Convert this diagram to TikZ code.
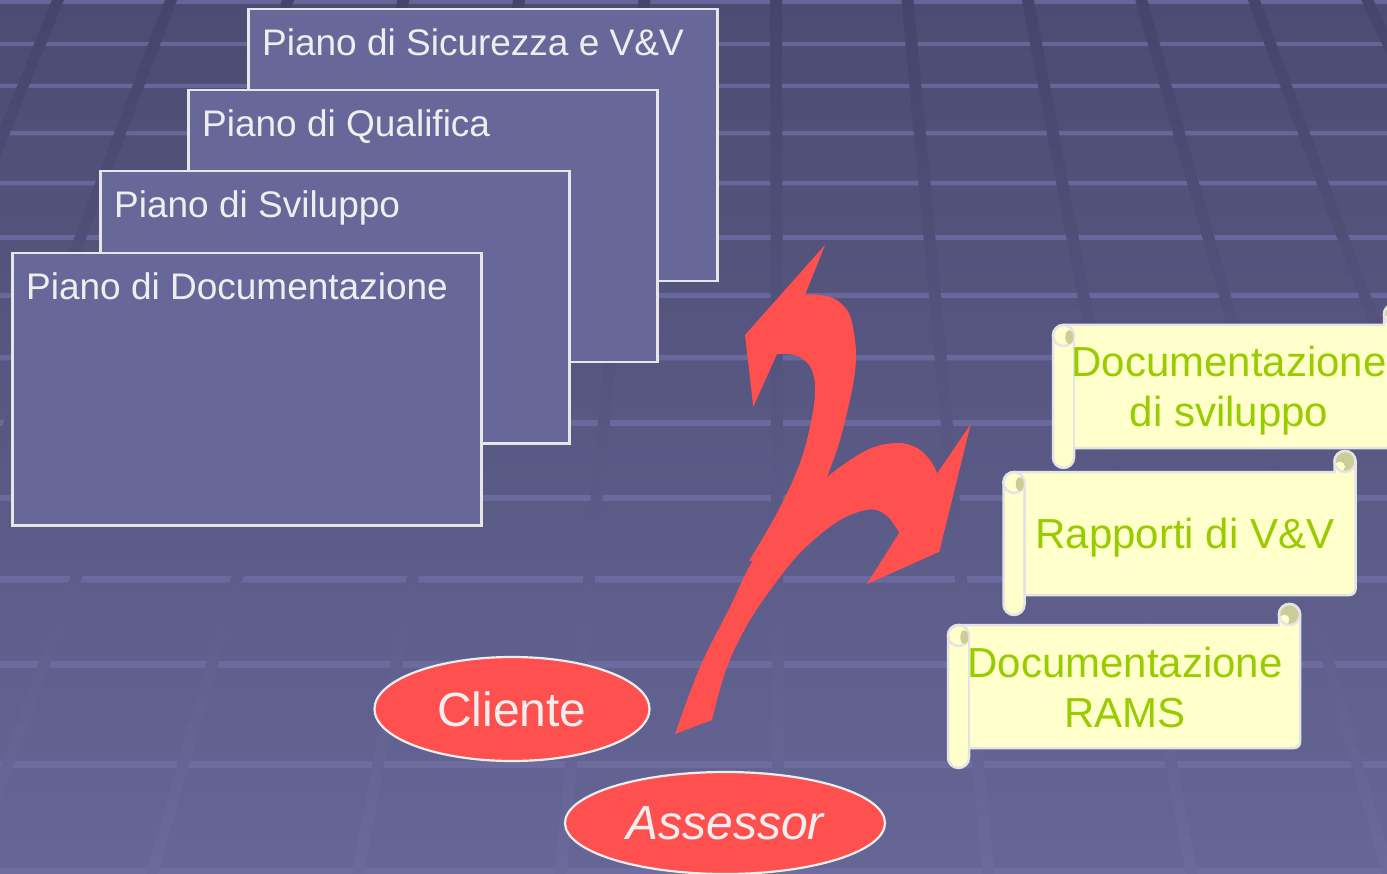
\documentclass[tikz,border=0pt]{standalone}
\usepackage{fontspec}
\setmainfont{Liberation Sans}
\usetikzlibrary{shapes.geometric}

\definecolor{bgtop}{HTML}{4C4B71}
\definecolor{bgbottom}{HTML}{666697}
\definecolor{gridtop}{HTML}{45446A}
\definecolor{gridbottom}{HTML}{6A6A9B}
\definecolor{railtop}{HTML}{656599}
\definecolor{railbottom}{HTML}{6D6DA0}
\definecolor{planfill}{HTML}{67679A}
\definecolor{planline}{HTML}{E6E6E6}
\definecolor{softwhite}{HTML}{EEEEEE}
\definecolor{alertred}{HTML}{FF5050}
\definecolor{paper}{HTML}{FFFFCC}
\definecolor{paperline}{HTML}{E4E4E4}
\definecolor{paperfold}{HTML}{CCCC99}
\definecolor{leafgreen}{HTML}{99CC00}

% scroll geometry: roll radius, total width, body height
\def\scrR{10.5}
\def\scrW{352}
\def\scrH{123}

% horizontal scroll with its left edge at #1 and body top at #2
\newcommand\docscroll[2]{%
  \path[scrollbody] (#1,#2+\scrR)
    arc[start angle=180,end angle=270,radius=\scrR]
    -- (#1+\scrW-2*\scrR,#2) -- (#1+\scrW-2*\scrR,#2-\scrR)
    arc[start angle=180,end angle=360,radius=\scrR]
    -- (#1+\scrW,#2+\scrH-6) arc[start angle=0,end angle=90,radius=6]
    -- (#1+2*\scrR,#2+\scrH) -- (#1+2*\scrR,#2+\scrH+20-\scrR)
    arc[start angle=0,end angle=180,radius=\scrR] -- cycle;
  \draw[scrollline] (#1+2*\scrR,#2+\scrR) -- (#1+2*\scrR,#2+\scrH);
  \draw[scrollline] (#1+\scrR,#2+\scrR) circle[radius=\scrR];
  \fill[paperfold] (#1+1.55*\scrR,#2+1.15*\scrR) ellipse[x radius=4, y radius=6.8];
  \fill[paperfold] (#1+\scrW-\scrR,#2-\scrR) circle[radius=\scrR];
  \fill[paper] (#1+\scrW-1.5*\scrR,#2-0.5*\scrR) circle[radius=5.2];
  \draw[scrollline] (#1+\scrW-\scrR,#2-\scrR) circle[radius=\scrR];
}

\begin{document}
\begin{tikzpicture}[x=1pt,y=-1pt,
  planbox/.style={draw=planline,line width=2.5pt,fill=planfill,
    minimum width=469pt,minimum height=272pt,inner sep=0pt,anchor=north west},
  plantext/.style={text=softwhite,font=\fontsize{37}{44}\selectfont,
    inner sep=0pt,anchor=base west},
  actor/.style={ellipse,fill=alertred,draw=softwhite,line width=2.2pt,
    inner sep=0pt,text=softwhite,font=\fontsize{48}{58}\selectfont},
  scrollbody/.style={fill=paper,draw=paperline,line width=2.5pt,line join=round},
  scrollline/.style={draw=paperline,line width=2.5pt},
  scrolltext/.style={text=leafgreen,font=\fontsize{42}{50}\selectfont,
    align=center,inner sep=0pt,anchor=base},
  redarrow/.style={fill=alertred}]

\useasboundingbox (0,0) rectangle (1387,874);
\begin{scope}
\clip (0,0) rectangle (1387,874);

% background and perspective grid
\shade[top color=bgtop,bottom color=bgbottom] (0,0) rectangle (1387,874);
\shade[top color=railtop,bottom color=railbottom]
  \foreach \y/\t in {0/4,42/4,84/4,131/4.5,181/4.5,235/5,293/5,355/5.5,
                     420/6,495/6,576/6.5,661/7,761/7,868/7}
    { (0,\y) rectangle (1387,\y+\t) };
\shade[top color=gridtop,bottom color=gridbottom]
  \foreach \a/\b in {60/-300,173/-165,290/-35,405/150,520/357,645/560,
                     776/778,907/989,1027/1193,1140/1390,1252/1584,1365/1780}
    { (\a-6,-5) -- (\a+6,-5) -- (\b+6,880) -- (\b-6,880) -- cycle };

% stacked plans
\node[planbox] (p1) at (247,8) {};
\node[plantext] (p1t) at ([xshift=15pt,yshift=-48pt]p1.north west) {Piano di Sicurezza e V\&V};
\node[planbox] (p2) at (187,89) {};
\node[plantext] (p2t) at ([xshift=15pt,yshift=-48pt]p2.north west) {Piano di Qualifica};
\node[planbox] (p3) at (99,170) {};
\node[plantext] (p3t) at ([xshift=15pt,yshift=-48pt]p3.north west) {Piano di Sviluppo};
\node[planbox] (p4) at (11,252) {};
\node[plantext] (p4t) at ([xshift=15pt,yshift=-48pt]p4.north west) {Piano di Documentazione};

% branching arrow: right branch
\path[redarrow]
  plot[smooth,tension=0.6] coordinates {(675,734) (700,667) (730,607) (752,562)
    (785,515) (827,477) (867,450) (897,443) (917,448) (930,460) (937.3,473.3)}
  -- (970.7,424) -- (939.3,551.7) -- (866.7,584.3)
  -- plot[smooth,tension=0.6] coordinates {(899.3,532.7) (887,516) (870,509.5)
    (840,520) (807,546) (783,573) (750,620) (727,667) (712,720)}
  -- cycle;
% branching arrow: upper branch
\path[redarrow]
  plot[smooth,tension=0.6] coordinates {(749,561) (777,513) (800,463) (812,417)
    (815,387) (811,368) (800,357) (788,354) (777,354)}
  -- (753.3,406.7) -- (745,335) -- (825,245)
  -- plot[smooth,tension=0.6] coordinates {(805,295) (815,294.5) (833,298)
    (847,310) (853,327) (856,357) (852,390) (840,440) (827,477) (812,515) (790,556)}
  -- cycle;

% actors
\node[actor,minimum width=275pt,minimum height=104pt] (cliente) at (512,709) {Cliente};
\node[actor,minimum width=320pt,minimum height=102pt] (assessor) at (725,823) {\itshape Assessor};

% produced documentation (base anchor sits on the last line)
\docscroll{1053}{325}
\node[scrolltext] (s1) at (1229,427) {Documentazione\\di sviluppo};
\docscroll{1003.5}{472}
\node[scrolltext] (s2) at (1185,548) {Rapporti di V\&V};
\docscroll{948}{625}
\node[scrolltext] (s3) at (1125,727) {Documentazione\\RAMS};
\end{scope}
\end{tikzpicture}
\end{document}
